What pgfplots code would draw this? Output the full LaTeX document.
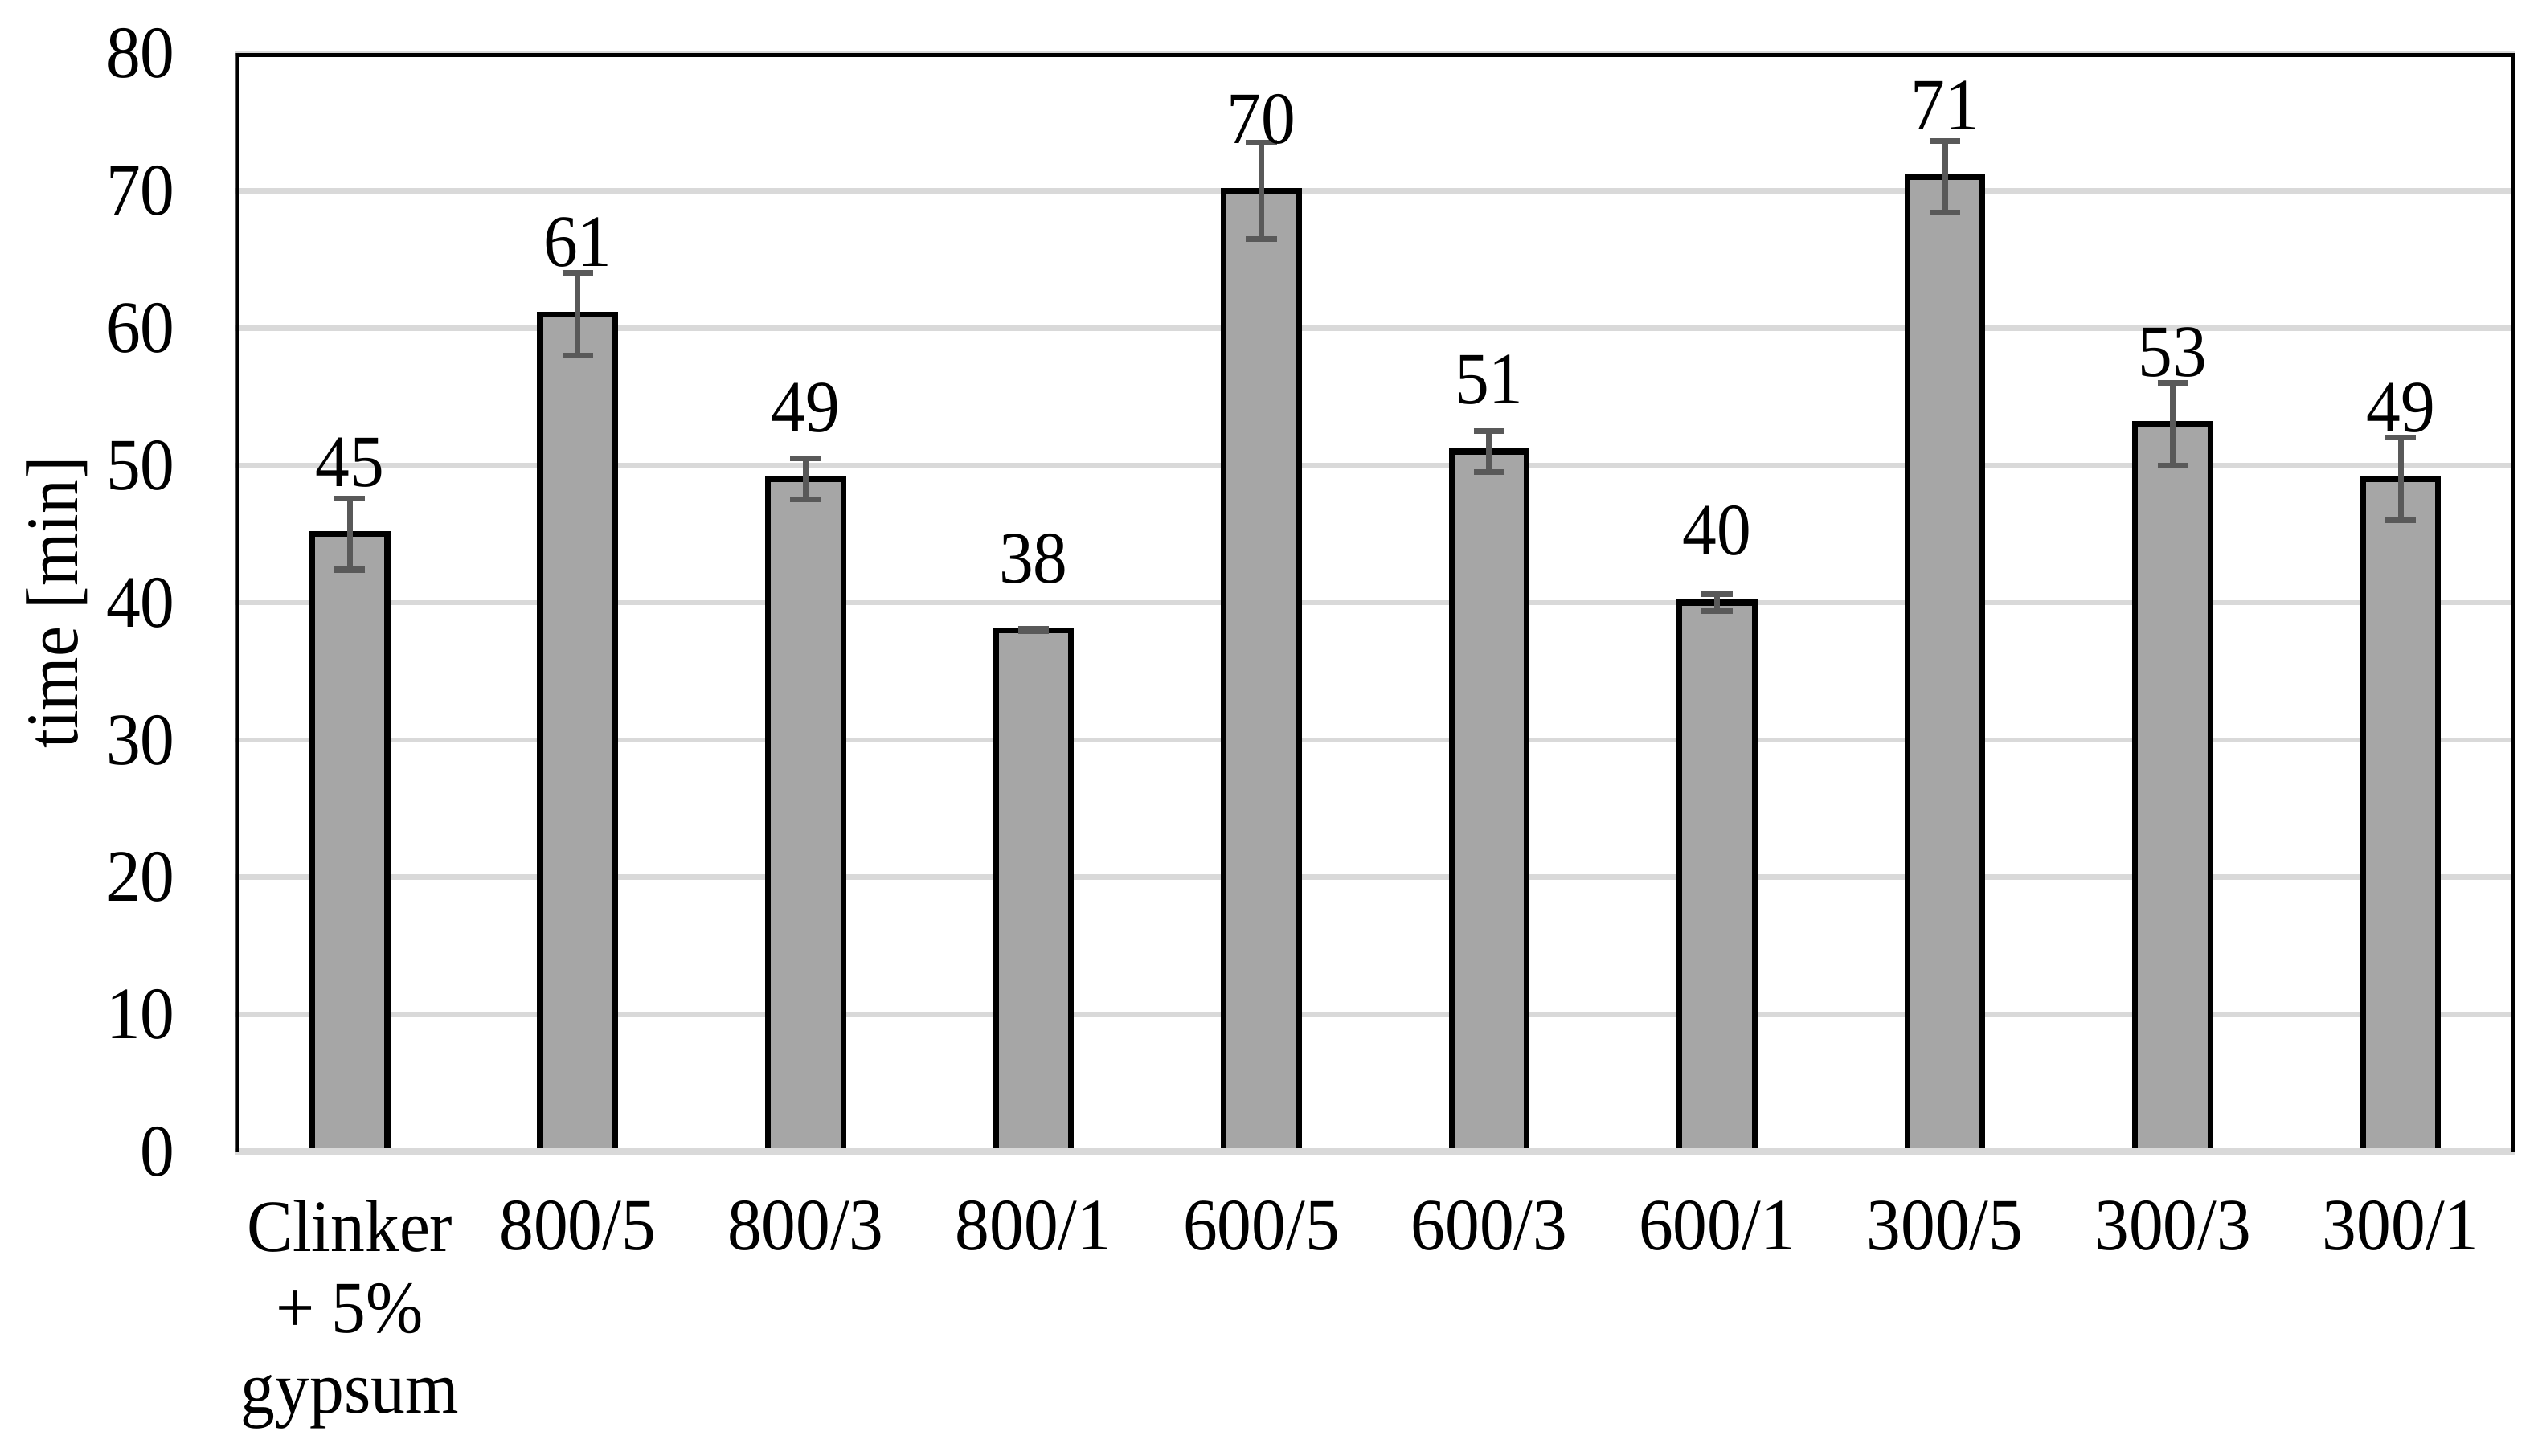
\documentclass[border=0pt]{standalone}
\usepackage{pgfplots}
\pgfplotsset{compat=1.18}
\usepackage{fontspec}
\setmainfont[FakeStretch=0.93]{Liberation Serif}
\definecolor{barfill}{RGB}{166,166,166}
\definecolor{errcol}{RGB}{89,89,89}
\definecolor{gridcol}{RGB}{217,217,217}
\begin{document}
\fontsize{13}{14.2}\selectfont
\begin{tikzpicture}
  \begin{axis}[
      scale only axis,
      width=14.1cm, height=6.8cm,
      xmin=-0.5, xmax=9.5, ymin=0, ymax=80,
      ytick={0,10,...,80},
      xtick={0,...,9},
      xticklabels={{Clinker\\+ 5\%\\gypsum},800/5,800/3,800/1,600/5,600/3,600/1,300/5,300/3,300/1},
      xticklabel style={align=center, yshift=-4pt},
      yticklabel style={xshift=-6.2pt},
      major tick length=0pt,
      /pgf/number format/assume math mode=true,
      ymajorgrids=true,
      grid style={gridcol, line width=0.95pt},
      axis line style={draw=none},
      ylabel={time [min]},
      every axis y label/.style={at={(axis description cs:-0.0787,0.5)}, rotate=90, anchor=center},
      ybar, bar width=0.33,
      nodes near coords,
      every node near coord/.append style={yshift=3.4pt, black},
    ]
    \addplot[fill=barfill, draw=black, line width=1pt,
      error bars/.cd, y dir=both, y explicit,
      error bar style={errcol, line width=1pt},
      error mark options={rotate=90, errcol, mark size=2.7pt, line width=1pt}]
      coordinates {
        (0,45) +- (0,2.6)
        (1,61) +- (0,3.0)
        (2,49) +- (0,1.5)
        (3,38) +- (0,0.1)
        (4,70) +- (0,3.5)
        (5,51) +- (0,1.5)
        (6,40) +- (0,0.6)
        (7,71) +- (0,2.6)
        (8,53) +- (0,3.0)
        (9,49) +- (0,3.0)
      };
    \draw[gridcol, line width=1.2pt] (rel axis cs:0,0) -- (rel axis cs:1,0);
    \draw[black, line width=1.4pt] (rel axis cs:0,0) -- (rel axis cs:0,1) -- (rel axis cs:1,1) -- (rel axis cs:1,0);
    \coordinate (bbl) at (axis description cs:-0.1035,-0.2765);
    \coordinate (btr) at (axis description cs:1.0085,1.0485);
  \end{axis}
  \path (bbl) rectangle (btr);
\end{tikzpicture}
\end{document}
